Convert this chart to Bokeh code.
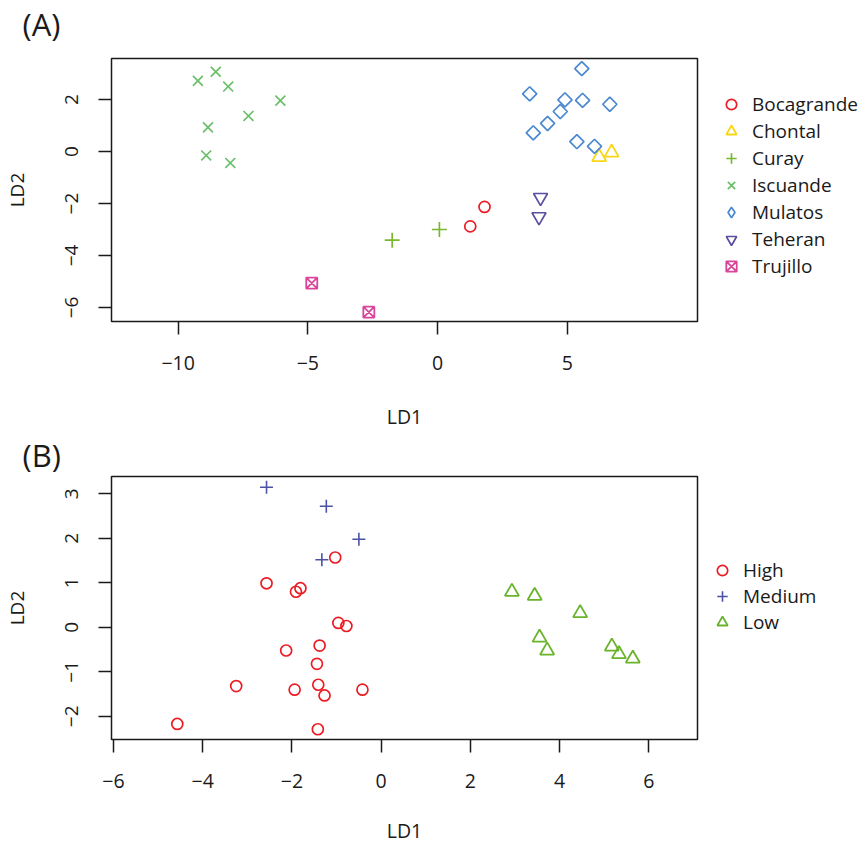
from bokeh.plotting import figure
from bokeh.layouts import column, row
from bokeh.models import Range1d, FixedTicker, Legend, LegendItem, Label
from bokeh.embed import file_html
from bokeh.resources import INLINE
import numpy as np

FONT = "Open Sans"
INK = "#1a1a1a"
FS = "19.5px"
FS_Y = "19px"

# ---------------- Panel (A) data ----------------
boca_x = [1.26, 1.81]
boca_y = [-2.88, -2.13]
chontal_x = [6.23, 6.71]
chontal_y = [-0.21, -0.04]
curay_x = [-1.75, 0.07]
curay_y = [-3.41, -3.00]
iscu_x = [-9.24, -8.55, -8.07, -6.06, -7.29, -8.85, -8.92, -7.99]
iscu_y = [2.72, 3.07, 2.50, 1.96, 1.37, 0.93, -0.15, -0.44]
mul_x = [5.56, 3.55, 4.91, 5.59, 6.64, 4.73, 4.24, 3.69, 5.37, 6.05]
mul_y = [3.19, 2.22, 1.99, 1.97, 1.82, 1.54, 1.08, 0.72, 0.38, 0.20]
teh_x = [3.97, 3.91]
teh_y = [-1.77, -2.51]
tru_x = [-4.85, -2.65]
tru_y = [-5.06, -6.18]
a_xlim = (-12.57, 10.02)
a_ylim = (-6.54, 3.58)
a_xticks = [-10, -5, 0, 5]
a_yticks = [-6, -4, -2, 0, 2]

# ---------------- Panel (B) data ----------------
high_x = [-1.03, -2.57, -1.81, -1.91, -0.96, -0.78, -1.38, -2.13, -1.44, -3.25,
          -1.41, -1.94, -1.27, -0.42, -4.57, -1.42]
high_y = [1.57, 0.99, 0.88, 0.80, 0.10, 0.03, -0.41, -0.52, -0.82, -1.32,
          -1.29, -1.40, -1.53, -1.40, -2.17, -2.29]
med_x = [-2.57, -1.23, -0.50, -1.33]
med_y = [3.15, 2.72, 1.98, 1.52]
low_x = [2.93, 3.44, 4.46, 3.55, 3.72, 5.17, 5.33, 5.64]
low_y = [0.80, 0.71, 0.32, -0.23, -0.52, -0.43, -0.60, -0.70]
b_xlim = (-6.045, 7.09)
b_ylim = (-2.52, 3.39)
b_xticks = [-6, -4, -2, 0, 2, 4, 6]
b_yticks = [-2, -1, 0, 1, 2, 3]

STY = {
    "Bocagrande": dict(marker="circle", size=11, line_color="#ec1c24", line_width=1.7),
    "Chontal": dict(marker="triangle", size=14, line_color="#f9d616", line_width=1.8),
    "Curay": dict(marker="cross", size=15, line_color="#7ab82e", line_width=1.7),
    "Iscuande": dict(marker="x", size=14, line_color="#6cbf6a", line_width=1.7),
    "Mulatos": dict(marker="square", angle=np.pi / 4, size=10, line_color="#4a88d0", line_width=1.7),
    "Teheran": dict(marker="inverted_triangle", size=14, line_color="#5a4ea1", line_width=1.7),
    "Trujillo": dict(marker="square_x", size=11, line_color="#d8459a", line_width=1.8),
    "High": dict(marker="circle", size=11, line_color="#ec1c24", line_width=1.7),
    "Medium": dict(marker="cross", size=13, line_color="#4b52a6", line_width=1.6),
    "Low": dict(marker="triangle", size=14, line_color="#6ab42d", line_width=1.8),
}
LEGEND_MARKER = {"Mulatos": "diamond"}


def minus(t):
    return str(t).replace("-", "\u2212")


def text_label(x, y, text, size, align="left"):
    return Label(x=x, y=y, x_units="screen", y_units="screen", text=text,
                 text_font=FONT, text_font_size=size, text_color=INK,
                 text_baseline="middle", text_align=align)


def make_fig(height, top, xlim, ylim, xticks, yticks, tag, tag_y, ld1_y):
    p = figure(frame_width=586, frame_height=263, output_backend="svg", toolbar_location=None,
               x_range=Range1d(*xlim), y_range=Range1d(*ylim),
               min_border_left=111, min_border_right=3, min_border_top=top,
               min_border_bottom=height - top - 263)
    p.xgrid.grid_line_color = None
    p.ygrid.grid_line_color = None
    p.outline_line_color = INK
    p.outline_line_width = 1.5
    p.outline_line_alpha = 1
    p.xaxis.ticker = FixedTicker(ticks=xticks)
    p.yaxis.ticker = FixedTicker(ticks=yticks)
    p.xaxis.major_label_overrides = {t: minus(t) for t in xticks}
    p.yaxis.major_label_overrides = {t: minus(t) for t in yticks}
    p.yaxis.axis_label = "LD2"
    for ax in (p.xaxis, p.yaxis):
        ax.axis_line_color = None
        ax.major_tick_out = 13
        ax.major_tick_in = 0
        ax.minor_tick_line_color = None
        ax.major_tick_line_color = INK
        ax.major_tick_line_width = 1.5
        ax.major_label_text_font = FONT
        ax.major_label_text_color = INK
        ax.axis_label_text_font = FONT
        ax.axis_label_text_font_style = "normal"
        ax.axis_label_text_color = INK
    p.xaxis.major_label_text_font_size = FS
    p.yaxis.major_label_text_font_size = FS_Y
    p.yaxis.axis_label_text_font_size = FS_Y
    p.xaxis.major_label_standoff = 21
    p.yaxis.major_label_standoff = 20
    p.yaxis.axis_label_standoff = 33
    p.yaxis.major_label_orientation = "vertical"
    p.add_layout(text_label(-89, tag_y, tag, "31px"), "above")
    p.add_layout(text_label(293, ld1_y, "LD1", FS, "center"), "below")
    return p


def legend_fig(height, names, loc, spacing):
    lf = figure(width=166, height=height, output_backend="svg", toolbar_location=None,
                x_axis_type=None, y_axis_type=None, x_range=Range1d(0, 1), y_range=Range1d(0, 1),
                min_border_left=0, min_border_right=0, min_border_top=0, min_border_bottom=0)
    lf.outline_line_color = None
    items = []
    for n in names:
        st = dict(STY[n])
        st.pop("angle", None)
        st["marker"] = LEGEND_MARKER.get(n, st["marker"])
        r = lf.scatter(x=[np.nan], y=[np.nan], fill_color=None, **st)
        items.append(LegendItem(label=n, renderers=[r]))
    lf.add_layout(Legend(items=items, location=loc, glyph_width=26, glyph_height=26,
                         label_height=26, spacing=spacing, padding=0, margin=0,
                         label_standoff=8,
                         label_text_font=FONT, label_text_font_size="19px", label_text_color=INK,
                         border_line_color=None, background_fill_alpha=0))
    return lf


# ---------------- Panel A ----------------
HA = 430
pa = make_fig(HA, 58, a_xlim, a_ylim, a_xticks, a_yticks, "(A)", 35, -17)
groups_a = [("Bocagrande", boca_x, boca_y), ("Chontal", chontal_x, chontal_y),
            ("Curay", curay_x, curay_y), ("Iscuande", iscu_x, iscu_y),
            ("Mulatos", mul_x, mul_y), ("Teheran", teh_x, teh_y), ("Trujillo", tru_x, tru_y)]
for n, xs, ys in groups_a:
    pa.scatter(xs, ys, fill_color=None, **STY[n])
la = legend_fig(HA, [g[0] for g in groups_a], (18, 42), 1)

# ---------------- Panel B ----------------
HB = 844 - HA
pb = make_fig(HB, 46, b_xlim, b_ylim, b_xticks, b_yticks, "(B)", 22, -13)
groups_b = [("High", high_x, high_y), ("Medium", med_x, med_y), ("Low", low_x, low_y)]
for n, xs, ys in groups_b:
    pb.scatter(xs, ys, fill_color=None, **STY[n])
lb = legend_fig(HB, [g[0] for g in groups_b], (9, 104), 0)

layout = column(row(pa, la, spacing=0), row(pb, lb, spacing=0), spacing=0)
open("out.html", "w").write(file_html(layout, INLINE))
